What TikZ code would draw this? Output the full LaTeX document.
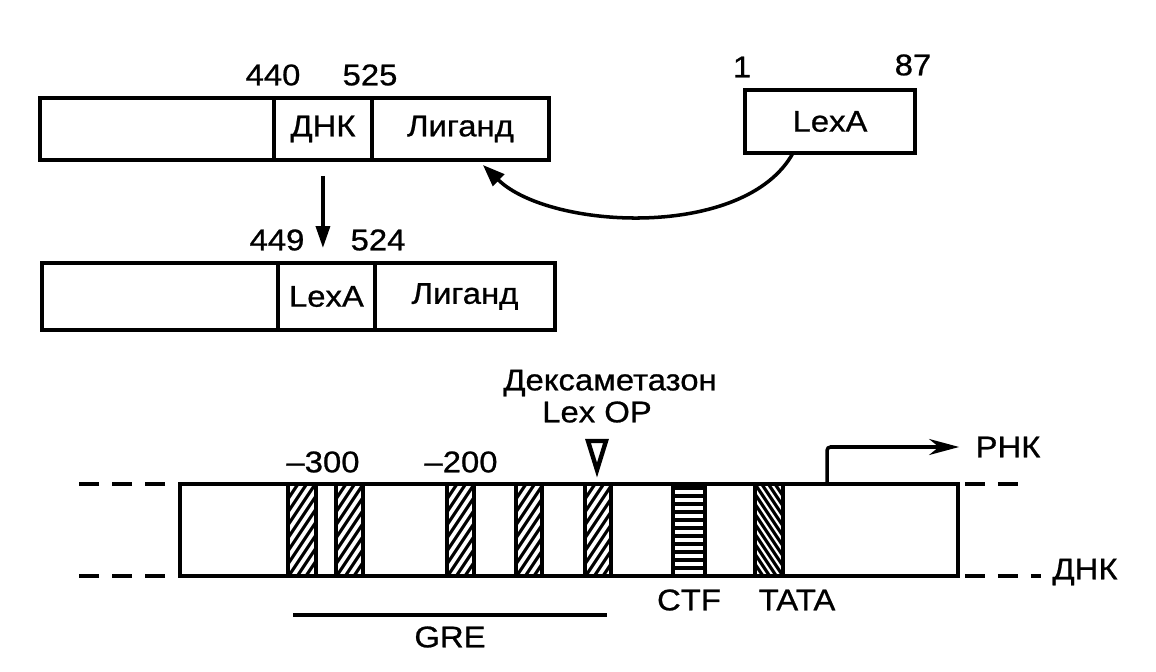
\documentclass[tikz,border=0pt]{standalone}
\usepackage{fontspec}
\setmainfont{Liberation Sans}[FakeStretch=1.1, FakeBold=0.8]
\usetikzlibrary{positioning,arrows.meta}

\tikzset{
    seg/.style={draw, line width=2pt, inner sep=0pt, outer sep=0pt, anchor=west},
    hatch/.style={line width=1.8pt},
    dashln/.style={line width=2pt, dash pattern=on 0.4cm off 0.26cm},
    arr/.style={line width=2pt, -{Triangle[length=0.44cm,width=0.28cm]}},
}

\begin{document}
\begin{tikzpicture}[x=0.02cm, y=-0.02cm, line width=2pt,
    every node/.style={font=\fontsize{17}{20}\selectfont, inner sep=1pt}]
    \useasboundingbox (0,0) rectangle (1156,672);

    % receptor
    \node[seg, minimum width=4.68cm, minimum height=1.24cm] (rec) at (40,129) {};
    \node[seg, minimum width=1.96cm, minimum height=1.24cm, right=0pt of rec] (dbd) {ДНК};
    \node[seg, minimum width=3.54cm, minimum height=1.24cm, right=0pt of dbd] (lig) {Лиганд};
    \node (n440) at (273,75) {440};
    \node (n525) at (370,75) {525};

    % LexA
    \node[seg, anchor=center, minimum width=3.4cm, minimum height=1.26cm] (lexa) at (830,121.5) {LexA};
    \node (n1) at (742,67) {1};
    \node (n87) at (913,65) {87};
    \draw[arr, -{Triangle[length=0.44cm,width=0.32cm]}] ([xshift=-0.74cm]lexa.south) .. controls (745,240) and (550,230) .. ([xshift=0.45cm,yshift=-0.1cm]lig.south);

    % fusion
    \node[seg, minimum width=4.72cm, minimum height=1.34cm] (fus) at (42,296.5) {};
    \node[seg, minimum width=1.94cm, minimum height=1.34cm, right=0pt of fus] (lex2) {LexA};
    \node[seg, minimum width=3.6cm, minimum height=1.34cm, right=0pt of lex2] (lig2) {Лиганд};
    \node (n449) at (277,240) {449};
    \node (n524) at (378,240) {524};
    \draw[arr] ([yshift=-0.32cm]dbd.south) -- ([yshift=0.3cm]dbd.south |- lex2.north);

    % promoter
    \node[draw, line width=2pt, inner sep=0pt, outer sep=0pt,
          minimum width=15.56cm, minimum height=1.84cm] (dna) at (569,530) {};
    \draw[dashln] ([xshift=-0.3cm]dna.north west) -- ++(-87,0);
    \draw[dashln] ([xshift=-0.3cm]dna.south west) -- ++(-87,0);
    \draw[dashln] ([xshift=0.14cm]dna.north east) -- ++(53,0);
    \draw[dashln] ([xshift=0.14cm]dna.south east) -- ++(76,0);
    \node (dnk) at (1085,572) {ДНК};

    \foreach \a/\b in {288/316, 336/363, 447/474, 516/542, 585/611} {
        \begin{scope}
            \clip (\a,484) rectangle (\b,576);
            \foreach \k in {-1,...,11}
                \draw[hatch] (\a,616-\k*13) -- ++(40,-60);
        \end{scope}
        \draw (\a,484) -- (\a,576) (\b,484) -- (\b,576);
    }

    % CTF
    \begin{scope}
        \clip (673,484) rectangle (705,576);
        \foreach \k in {0,...,11}
            \draw[line width=2.5pt] (673,488+\k*8) -- (705,488+\k*8);
    \end{scope}
    \draw (673,484) -- (673,576) (705,484) -- (705,576);

    % TATA
    \begin{scope}
        \clip (755,484) rectangle (783,576);
        \foreach \k in {-1,...,14}
            \draw[hatch] (755,444+\k*10) -- ++(40,60);
    \end{scope}
    \draw (755,484) -- (755,576) (783,484) -- (783,576);

    \node (m300) at (323,462) {–300};
    \node (m200) at (461,462) {–200};
    \node (dex) at (610,383) {Дексаметазон};
    \node (lexop) at (597,412) {Lex OP};
    \draw[line width=2.5pt, line join=miter] (588,441) -- (606,441) -- (597,470) -- cycle;

    \node (ctf) at (689,600) {CTF};
    \node (tata) at (797,600) {TATA};

    \coordinate (greA) at (293,615);
    \coordinate (greB) at (607,615);
    \draw (greA) -- (greB);
    \node (gre) at (450,637) {GRE};

    % transcription start
    \coordinate (tss) at (827,484);
    \node (rnk) at (1008,447) {РНК};
    \draw[line width=2pt, rounded corners=2pt, -{Stealth[length=0.6cm,width=0.32cm]}] (tss) |- ([xshift=-0.26cm]rnk.west);
\end{tikzpicture}
\end{document}
